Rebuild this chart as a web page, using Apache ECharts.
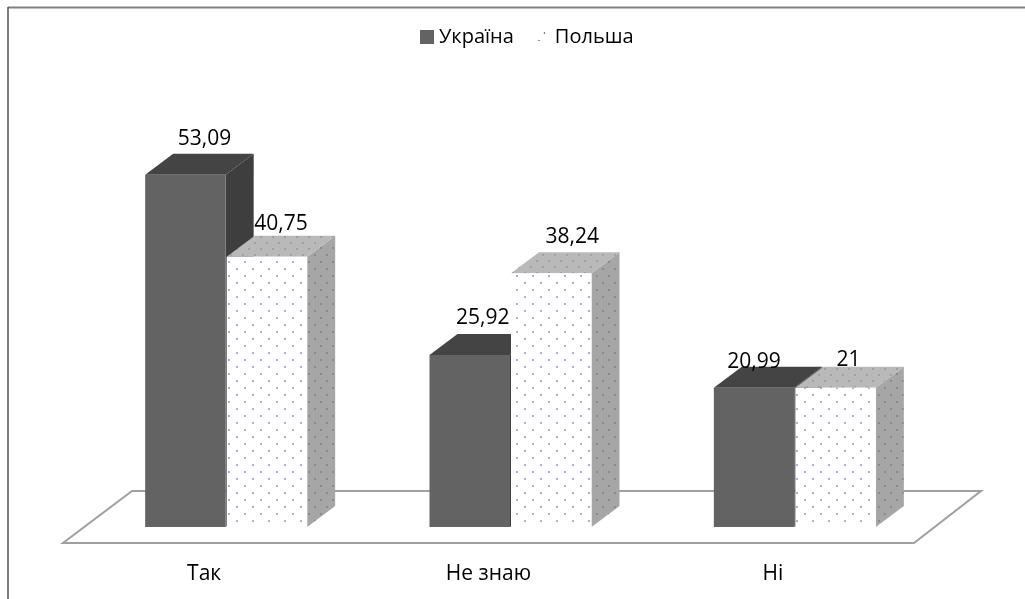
<!DOCTYPE html>
<html>
<head>
<meta charset="utf-8">
<style>
  html, body { margin: 0; padding: 0; background: #fff; }
  #chart { width: 1025px; height: 599px; }
</style>
</head>
<body>
<div id="chart"></div>
<script src="https://cdn.jsdelivr.net/npm/echarts@6/dist/echarts.min.js"></script>
<script>
const categories = ["Так", "Не знаю", "Ні"];
const ukraine = [53.09, 25.92, 20.99];
const poland = [40.75, 38.24, 21];
const seriesNames = ["Україна", "Польша"];
const axisMax = 60;

// сдвиг подписей значений относительно центра передней грани [dx, dy]
const ukraineLabelShift = [[19, -36], [13, -37], [0, -26]];
const polandLabelShift = [[14, -33], [21, -36], [13, -28]];

const barWidth = 80.5;
const depthX = 28;
const depthY = 21;
const font = '"Open Sans", "Noto Sans", sans-serif';

// точечная заливка
function dotPattern(bg, dot, stepX, stepY, x0, y0) {
  const c = document.createElement("canvas");
  c.width = stepX;
  c.height = stepY * 2;
  const ctx = c.getContext("2d");
  ctx.fillStyle = bg;
  ctx.fillRect(0, 0, c.width, c.height);
  ctx.fillStyle = dot;
  ctx.fillRect(x0, y0, 2, 2);
  ctx.fillRect((x0 + stepX / 2) % stepX, y0 + stepY, 2, 2);
  return { image: c, repeat: "repeat" };
}

function legendPattern() {
  const c = document.createElement("canvas");
  c.width = 14;
  c.height = 14;
  const ctx = c.getContext("2d");
  ctx.fillStyle = "#fff";
  ctx.fillRect(0, 0, 14, 14);
  ctx.fillStyle = "#6f8fc0";
  ctx.fillRect(2, 10, 2, 1);
  ctx.fillStyle = "#3f6fb0";
  ctx.fillRect(8, 2, 1, 2);
  return { image: c, repeat: "no-repeat" };
}

const ukraineFaces = { front: "#636363", top: "#444444", side: "#3e3e3e" };
const polandFaces = {
  front: dotPattern("#ffffff", "#a3b3d2", 16, 7, 12, 2),
  top: dotPattern("#b9b9b9", "#a0a0a0", 12, 6, 2, 2),
  side: dotPattern("#a6a6a6", "#8a8a8a", 12, 7, 2, 2)
};

function box(offsetDir, faces, shifts) {
  return function (params, api) {
    const i = api.value(0);
    const v = api.value(1);
    const top = api.coord([i, v]);
    const base = api.coord([i, 0]);
    const x0 = offsetDir < 0 ? top[0] - barWidth - 0.5 : top[0] + 0.5;
    const x1 = x0 + barWidth;
    const yT = top[1];
    const yB = base[1];
    const shift = shifts[i];
    return {
      type: "group",
      children: [
        {
          type: "polygon",
          shape: { points: [[x1, yT], [x1 + depthX, yT - depthY], [x1 + depthX, yB - depthY], [x1, yB]] },
          style: { fill: faces.side }
        },
        {
          type: "polygon",
          shape: { points: [[x0, yT], [x0 + depthX, yT - depthY], [x1 + depthX, yT - depthY], [x1, yT]] },
          style: { fill: faces.top }
        },
        {
          type: "rect",
          shape: { x: x0, y: yT, width: barWidth, height: yB - yT },
          style: { fill: faces.front }
        },
        {
          type: "text",
          style: {
            x: (x0 + x1) / 2 + shift[0],
            y: yT + shift[1],
            text: String(v).replace(".", ","),
            fill: "#000",
            font: "21px " + font,
            align: "center",
            verticalAlign: "middle"
          }
        }
      ]
    };
  };
}

const chart = echarts.init(document.getElementById("chart"), null, { renderer: "canvas" });
chart.setOption({
  backgroundColor: "#fff",
  animation: false,
  textStyle: { fontFamily: font },
  legend: {
    left: 415,
    top: 22,
    itemWidth: 14,
    itemHeight: 14,
    itemGap: 22,
    textStyle: { fontSize: 20, color: "#000" },
    data: [
      { name: seriesNames[0], icon: "rect", itemStyle: { color: ukraineFaces.front } },
      { name: seriesNames[1], icon: "rect", itemStyle: { color: legendPattern() } }
    ]
  },
  grid: { left: 84, width: 853, top: 129, height: 398 },
  xAxis: {
    type: "category",
    data: categories,
    axisLine: { show: false },
    axisTick: { show: false },
    axisLabel: { color: "#000", fontSize: 21, margin: 37, padding: [0, 44, 0, 0] }
  },
  yAxis: { type: "value", min: 0, max: axisMax, show: false },
  graphic: [
    {
      type: "polyline",
      silent: true,
      shape: { points: [[1025, 7.5], [8, 7.5]] },
      style: { fill: null, stroke: "#808080", lineWidth: 2 }
    },
    {
      type: "polyline",
      silent: true,
      shape: { points: [[8, 7], [8, 599]] },
      style: { fill: null, stroke: "#555555", lineWidth: 1.5 }
    },
    {
      type: "polygon",
      silent: true,
      shape: { points: [[63, 543], [914, 543], [981, 491], [132, 491]] },
      style: { fill: "#fff", stroke: "#a0a0a0", lineWidth: 2 }
    }
  ],
  series: [
    {
      name: seriesNames[0],
      type: "custom",
      z: 3,
      renderItem: box(-1, ukraineFaces, ukraineLabelShift),
      encode: { x: 0, y: 1 },
      data: ukraine.map((v, i) => [i, v])
    },
    {
      name: seriesNames[1],
      type: "custom",
      z: 4,
      renderItem: box(1, polandFaces, polandLabelShift),
      encode: { x: 0, y: 1 },
      data: poland.map((v, i) => [i, v])
    }
  ]
});
</script>
</body>
</html>
